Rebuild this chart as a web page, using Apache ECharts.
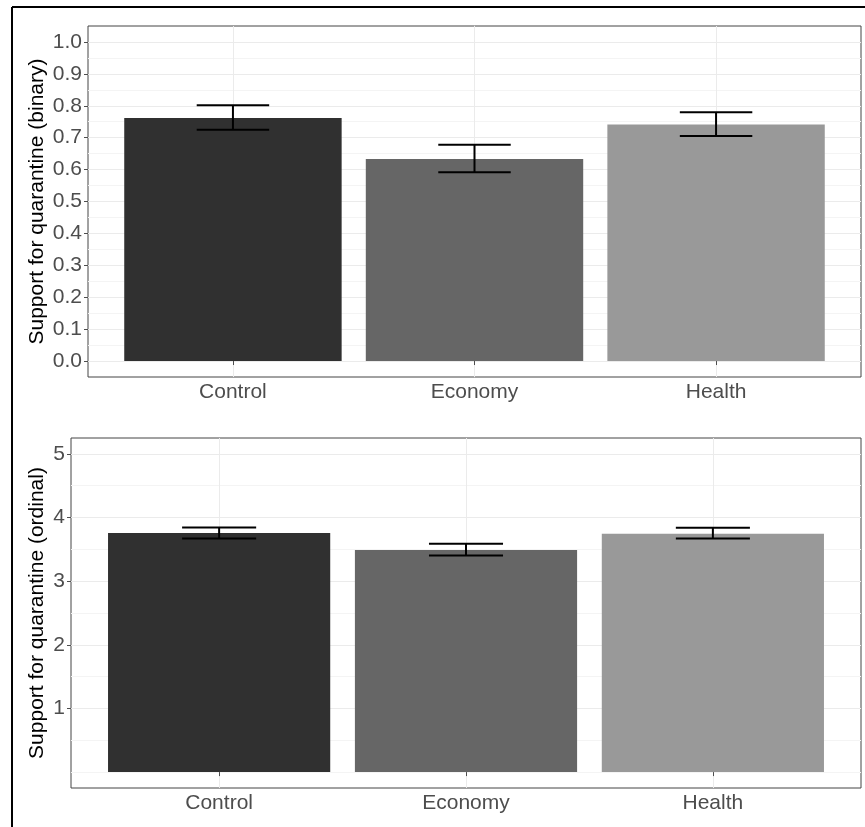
<!DOCTYPE html>
<html>
<head>
<meta charset="utf-8">
<script src="https://cdn.jsdelivr.net/npm/echarts@6/dist/echarts.min.js"></script>
<style>
html,body{margin:0;padding:0;background:#fff;}
#chart{width:865px;height:827px;}
</style>
</head>
<body>
<div id="chart"></div>
<script>
const categories = ['Control', 'Economy', 'Health'];
const barColors = ['#303030', '#666666', '#999999'];

const binaryMeans = [0.762, 0.633, 0.741];
const binaryLow = [0.725, 0.592, 0.705];
const binaryHigh = [0.802, 0.678, 0.780];
const binaryTicks = [0.0, 0.1, 0.2, 0.3, 0.4, 0.5, 0.6, 0.7, 0.8, 0.9, 1.0];
const binaryMinor = [0.05, 0.15, 0.25, 0.35, 0.45, 0.55, 0.65, 0.75, 0.85, 0.95];

const ordinalMeans = [3.757, 3.49, 3.746];
const ordinalLow = [3.672, 3.405, 3.672];
const ordinalHigh = [3.845, 3.589, 3.840];
const ordinalTicks = [1, 2, 3, 4, 5];
const ordinalMinor = [0, 0.5, 1.5, 2.5, 3.5, 4.5];

const categoryPositions = [1, 2, 3];

const FONT = "'Liberation Sans', Arial, Helvetica, sans-serif";
const TICK_SIZE = 21;
const TITLE_SIZE = 21;

function barData(means) {
  return means.map((v, i) => ({ value: [categoryPositions[i], v], itemStyle: { color: barColors[i] } }));
}
function errData(low, high) {
  return low.map((l, i) => [categoryPositions[i], l, high[i]]);
}
function errRender(params, api) {
  const x = api.value(0);
  const pHi = api.coord([x, api.value(2)]);
  const pLo = api.coord([x, api.value(1)]);
  const half = api.size([0.3, 0])[0] / 2;
  const st = { stroke: '#000', lineWidth: 2 };
  return {
    type: 'group',
    children: [
      { type: 'line', shape: { x1: pHi[0], y1: pHi[1], x2: pLo[0], y2: pLo[1] }, style: st },
      { type: 'line', shape: { x1: pHi[0] - half, y1: pHi[1], x2: pHi[0] + half, y2: pHi[1] }, style: st },
      { type: 'line', shape: { x1: pLo[0] - half, y1: pLo[1], x2: pLo[0] + half, y2: pLo[1] }, style: st }
    ]
  };
}

function xAxisFor(gridIndex) {
  return {
    type: 'value', gridIndex: gridIndex, min: 0.4, max: 3.6,
    axisLine: { show: false },
    axisTick: { show: true, customValues: categoryPositions, length: 4, lineStyle: { color: '#4d4d4d' } },
    axisLabel: {
      customValues: categoryPositions, margin: 5,
      formatter: v => categories[Math.round(v) - 1],
      color: '#4d4d4d', fontSize: TICK_SIZE, fontFamily: FONT
    },
    splitLine: { show: true, lineStyle: { color: '#EBEBEB', width: 1 } }
  };
}

const chart = echarts.init(document.getElementById('chart'), null, { renderer: 'canvas' });
chart.setOption({
  backgroundColor: '#fff',
  animation: false,
  textStyle: { fontFamily: FONT },
  graphic: [
    { type: 'line', shape: { x1: 12, y1: 7, x2: 865, y2: 7 }, style: { stroke: '#000', lineWidth: 2 }, z: 100 },
    { type: 'line', shape: { x1: 12, y1: 7, x2: 12, y2: 827 }, style: { stroke: '#000', lineWidth: 2 }, z: 100 }
  ],
  grid: [
    { left: 88, top: 26, width: 773, height: 351, show: true, borderColor: '#444', borderWidth: 1, backgroundColor: 'transparent', containLabel: false },
    { left: 71, top: 438, width: 790, height: 350, show: true, borderColor: '#444', borderWidth: 1, backgroundColor: 'transparent', containLabel: false }
  ],
  xAxis: [xAxisFor(0), xAxisFor(1)],
  yAxis: [
    {
      type: 'value', gridIndex: 0, min: -0.05, max: 1.05, position: 'left',
      name: 'Support for quarantine (binary)', nameLocation: 'middle', nameRotate: 90, nameGap: 40,
      nameMoveOverlap: false,
      nameTextStyle: { color: '#000', fontSize: TITLE_SIZE, fontFamily: FONT },
      axisLine: { show: false },
      axisTick: { show: true, customValues: binaryTicks, length: 4, lineStyle: { color: '#4d4d4d' } },
      axisLabel: { customValues: binaryTicks, margin: 6, formatter: v => v.toFixed(1), color: '#4d4d4d', fontSize: TICK_SIZE, fontFamily: FONT },
      splitLine: { show: true, lineStyle: { color: '#EBEBEB', width: 1 } }
    },
    {
      type: 'value', gridIndex: 0, min: -0.05, max: 1.05, position: 'left',
      axisLine: { show: false },
      axisTick: { show: false, customValues: binaryMinor },
      axisLabel: { show: false, customValues: binaryMinor },
      splitLine: { show: true, lineStyle: { color: '#F4F4F4', width: 1 } }
    },
    {
      type: 'value', gridIndex: 1, min: -0.25, max: 5.25, position: 'left',
      name: 'Support for quarantine (ordinal)', nameLocation: 'middle', nameRotate: 90, nameGap: 23,
      nameMoveOverlap: false,
      nameTextStyle: { color: '#000', fontSize: TITLE_SIZE, fontFamily: FONT },
      axisLine: { show: false },
      axisTick: { show: true, customValues: ordinalTicks, length: 4, lineStyle: { color: '#4d4d4d' } },
      axisLabel: { customValues: ordinalTicks, margin: 6, formatter: v => String(v), color: '#4d4d4d', fontSize: TICK_SIZE, fontFamily: FONT },
      splitLine: { show: true, lineStyle: { color: '#EBEBEB', width: 1 } }
    },
    {
      type: 'value', gridIndex: 1, min: -0.25, max: 5.25, position: 'left',
      axisLine: { show: false },
      axisTick: { show: false, customValues: ordinalMinor },
      axisLabel: { show: false, customValues: ordinalMinor },
      splitLine: { show: true, lineStyle: { color: '#F4F4F4', width: 1 } }
    }
  ],
  series: [
    { type: 'bar', xAxisIndex: 0, yAxisIndex: 0, barWidth: '90%', data: barData(binaryMeans) },
    { type: 'custom', xAxisIndex: 0, yAxisIndex: 0, renderItem: errRender, data: errData(binaryLow, binaryHigh), z: 5 },
    { type: 'bar', xAxisIndex: 1, yAxisIndex: 2, barWidth: '90%', data: barData(ordinalMeans) },
    { type: 'custom', xAxisIndex: 1, yAxisIndex: 2, renderItem: errRender, data: errData(ordinalLow, ordinalHigh), z: 5 }
  ]
});
</script>
</body>
</html>
